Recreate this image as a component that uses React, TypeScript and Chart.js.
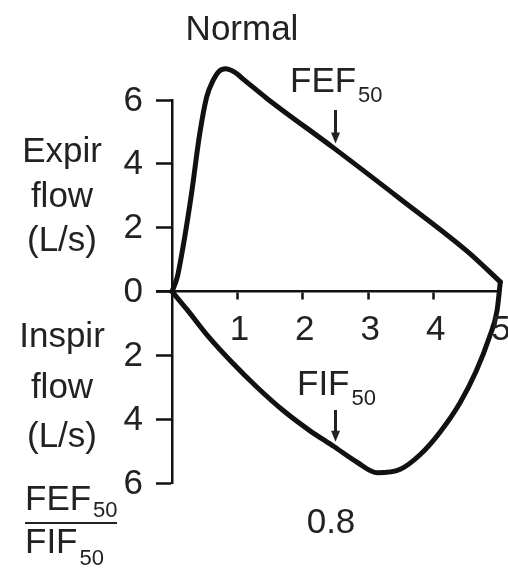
import { useEffect, useRef } from 'react';
import { Chart, registerables } from 'chart.js';

Chart.register(...registerables);

// Expiratory limb: volume (L) and flow (L/s), positive = expiration
const expVolume = [0, 0.08, 0.16, 0.3, 0.42, 0.53, 0.63, 0.72, 0.82, 0.95, 1.12, 1.45, 2.47, 3.49, 4.52, 5.02];
const expFlow = [0, 0.45, 1.3, 3.1, 4.9, 6.1, 6.62, 6.9, 6.98, 6.88, 6.6, 6.05, 4.5, 2.9, 1.25, 0.3];

// Inspiratory limb: negative flow is drawn below the volume axis
const inspVolume = [0, 0.23, 0.55, 0.93, 1.3, 1.7, 2.1, 2.47, 2.83, 3.14, 3.49, 3.8, 4.1, 4.4, 4.65, 4.85, 4.97, 5.02];
const inspFlow = [0, -0.57, -1.4, -2.25, -3.0, -3.73, -4.35, -4.85, -5.35, -5.68, -5.57, -5.1, -4.4, -3.5, -2.5, -1.45, -0.6, 0.3];

const volumeTicks = [1, 2, 3, 4, 5];
const flowTicks = [-6, -4, -2, 0, 2, 4, 6];

const fef50Volume = 2.5;
const fif50Volume = 2.5;
const ratioText = '0.8';
const titleText = 'Normal';

const INK = '#111111';
const TEXT = '#222222';
const FAMILY = '"Liberation Sans", Arial, Helvetica, sans-serif';

function flowAt(vols: number[], flows: number[], v: number): number {
  for (let i = 1; i < vols.length; i++) {
    if (v <= vols[i]) {
      const t = (v - vols[i - 1]) / (vols[i] - vols[i - 1]);
      return flows[i - 1] + t * (flows[i] - flows[i - 1]);
    }
  }
  return flows[flows.length - 1];
}

function subText(ctx: CanvasRenderingContext2D, main: string, sub: string, x: number, base: number, subBase: number, gap = 2) {
  ctx.textAlign = 'left';
  ctx.font = `35px ${FAMILY}`;
  ctx.fillText(main, x, base);
  const w = ctx.measureText(main).width;
  ctx.font = `22px ${FAMILY}`;
  ctx.fillText(sub, x + w + gap, subBase);
}

function downArrow(ctx: CanvasRenderingContext2D, x: number, top: number, tip: number) {
  ctx.beginPath();
  ctx.lineWidth = 3;
  ctx.moveTo(x, top);
  ctx.lineTo(x, tip - 8);
  ctx.stroke();
  ctx.beginPath();
  ctx.moveTo(x - 4.5, tip - 11);
  ctx.lineTo(x + 4.5, tip - 11);
  ctx.lineTo(x, tip);
  ctx.closePath();
  ctx.fill();
}

const labelsPlugin = {
  id: 'loopLabels',
  afterDraw(chart: Chart) {
    const { ctx } = chart;
    const xs = chart.scales.x;
    const ys = chart.scales.y;
    ctx.save();
    ctx.fillStyle = TEXT;
    ctx.strokeStyle = TEXT;

    // tick labels, placed from the scales
    ctx.font = `35px ${FAMILY}`;
    ctx.textBaseline = 'middle';
    ctx.textAlign = 'center';
    const axisY = ys.getPixelForValue(0);
    volumeTicks.forEach((v) => ctx.fillText(String(v), xs.getPixelForValue(v) + 2, axisY + 39));
    ctx.textAlign = 'right';
    const axisX = xs.getPixelForValue(0);
    flowTicks.forEach((v) => ctx.fillText(String(Math.abs(v)), axisX - 29, ys.getPixelForValue(v) + 1));

    ctx.textBaseline = 'alphabetic';
    // title
    ctx.textAlign = 'center';
    ctx.fillText(titleText, 242, 40);

    // axis captions
    const capX = 62;
    ['Expir', 'flow', '(L/s)'].forEach((t, i) => ctx.fillText(t, capX, [162, 207, 251][i]));
    ['Inspir', 'flow', '(L/s)'].forEach((t, i) => ctx.fillText(t, capX, [347, 398, 447][i]));

    // FEF50 marker
    const fx = xs.getPixelForValue(fef50Volume);
    subText(ctx, 'FEF', '50', 290, 92, 102);
    downArrow(ctx, fx, 110, ys.getPixelForValue(flowAt(expVolume, expFlow, fef50Volume)) - 6);

    // FIF50 marker
    const ix = xs.getPixelForValue(fif50Volume);
    subText(ctx, 'FIF', '50', 297, 395, 405);
    downArrow(ctx, ix, 410, ys.getPixelForValue(flowAt(inspVolume, inspFlow, fif50Volume)) - 6);

    // ratio
    subText(ctx, 'FEF', '50', 25, 510, 517);
    ctx.beginPath();
    ctx.lineWidth = 2;
    ctx.moveTo(25, 523);
    ctx.lineTo(117, 523);
    ctx.stroke();
    subText(ctx, 'FIF', '50', 25, 553, 565);
    ctx.font = `35px ${FAMILY}`;
    ctx.textAlign = 'center';
    ctx.fillText(ratioText, 331, 533);
    ctx.restore();
  },
};

export default function App() {
  const ref = useRef<HTMLCanvasElement | null>(null);

  useEffect(() => {
    if (!ref.current) return;
    const lineStyle = {
      borderColor: INK,
      borderWidth: 5,
      pointRadius: 0,
      cubicInterpolationMode: 'monotone',
      borderCapStyle: 'round',
      borderJoinStyle: 'round',
      clip: false,
    };
    const chart = new Chart(ref.current, {
      type: 'line',
      data: {
        datasets: [
          { ...lineStyle, data: expVolume.map((v, i) => ({ x: v, y: expFlow[i] })) },
          { ...lineStyle, data: inspVolume.map((v, i) => ({ x: v, y: inspFlow[i] })) },
        ],
      },
      options: {
        animation: false,
        responsive: false,
        devicePixelRatio: 1,
        layout: { padding: { left: 157, right: 9, top: 100, bottom: 87 } },
        plugins: { legend: { display: false }, tooltip: { enabled: false } },
        scales: {
          x: {
            type: 'linear',
            min: -0.23,
            max: 5,
            position: { y: 0 },
            afterBuildTicks: (s: any) => {
              s.ticks = volumeTicks.map((v) => ({ value: v }));
            },
            grid: { drawOnChartArea: false, drawTicks: true, tickLength: 7, tickWidth: 2.5, tickColor: INK },
            border: { display: true, color: INK, width: 2.5 },
            ticks: { display: false },
          },
          y: {
            type: 'linear',
            min: -6,
            max: 6,
            position: { x: 0 },
            afterBuildTicks: (s: any) => {
              s.ticks = flowTicks.map((v) => ({ value: v }));
            },
            grid: { drawOnChartArea: false, drawTicks: true, tickLength: 15, tickWidth: 2.5, tickColor: INK },
            border: { display: true, color: INK, width: 2.5 },
            ticks: { display: false },
          },
        },
      },
      plugins: [labelsPlugin],
    } as any);
    return () => chart.destroy();
  }, []);

  return (
    <div style={{ position: 'absolute', left: 0, top: 0, width: 508, height: 570, background: '#fff' }}>
      <canvas ref={ref} width={508} height={570} style={{ display: 'block' }} />
    </div>
  );
}
